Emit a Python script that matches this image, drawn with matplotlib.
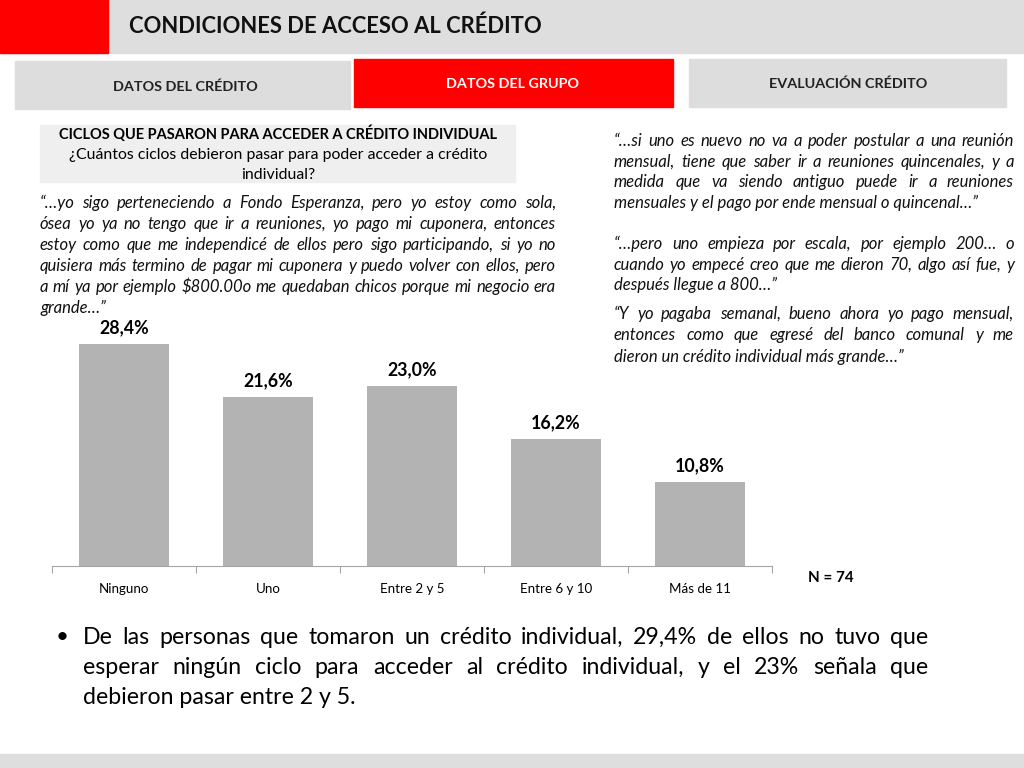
import matplotlib
matplotlib.use("Agg")
import matplotlib.pyplot as plt
from matplotlib.patches import Rectangle

plt.rcParams['font.family'] = ['Lato', 'DejaVu Sans']

# data
categories = ['Ninguno', 'Uno', 'Entre 2 y 5', 'Entre 6 y 10', 'Más de 11']
values = [28.4, 21.6, 23.0, 16.2, 10.8]
value_labels = ['28,4%', '21,6%', '23,0%', '16,2%', '10,8%']

title = 'CONDICIONES DE ACCESO AL CRÉDITO'
tabs = ['DATOS DEL CRÉDITO', 'DATOS DEL GRUPO', 'EVALUACIÓN CRÉDITO']
box_title = 'CICLOS QUE PASARON PARA ACCEDER A CRÉDITO INDIVIDUAL'
box_question = ['¿Cuántos ciclos debieron pasar para poder acceder a crédito', 'individual?']

quote_left = [
    '“…yo sigo perteneciendo a Fondo Esperanza, pero yo estoy como sola,',
    'ósea yo ya no tengo que ir a reuniones, yo pago mi cuponera, entonces',
    'estoy como que me independicé de ellos pero sigo participando, si yo no',
    'quisiera más termino de pagar mi cuponera y puedo volver con ellos, pero',
    'a mí ya por ejemplo $800.00o me quedaban chicos porque mi negocio era',
    'grande…”',
]
quote_r1 = [
    '“…si uno es nuevo no va a poder postular a una reunión',
    'mensual, tiene que saber ir a reuniones quincenales, y a',
    'medida que va siendo antiguo puede ir a reuniones',
    'mensuales y el pago por ende mensual o quincenal…”',
]
quote_r2 = [
    '“…pero uno empieza por escala, por ejemplo 200… o',
    'cuando yo empecé creo que me dieron 70, algo así fue, y',
    'después llegue a 800…”',
]
quote_r3 = [
    '“Y yo pagaba semanal, bueno ahora yo pago mensual,',
    'entonces como que egresé del banco comunal y me',
    'dieron un crédito individual más grande…”',
]
bullet = [
    'De las personas que tomaron un crédito individual, 29,4% de ellos no tuvo que',
    'esperar ningún ciclo para acceder al crédito individual,  y el 23% señala que',
    'debieron pasar entre 2 y 5.',
]

W, H = 1024, 768
fig = plt.figure(figsize=(W / 100, H / 100), dpi=100)
renderer = fig.canvas.get_renderer()


def rect(x, y, w, h, color):
    fig.patches.append(Rectangle((x / W, 1 - (y + h) / H), w / W, h / H,
                                 transform=fig.transFigure, color=color, zorder=0))


def text(x, y, s, **kw):
    return fig.text(x / W, 1 - y / H, s, **kw)


def justified(lines, x0, x1, y0, dy, **kw):
    # matplotlib has no justify, so spread the words of each line by hand
    for i, line in enumerate(lines):
        y = y0 + i * dy
        words = line.split()
        if i == len(lines) - 1:
            text(x0, y, line, va='center', ha='left', **kw)
            continue
        arts = [text(0, y, w, va='center', ha='left', **kw) for w in words]
        widths = [a.get_window_extent(renderer).width for a in arts]
        gap = (x1 - x0 - sum(widths)) / (len(words) - 1)
        x = x0
        for a, w in zip(arts, widths):
            a.set_x(x / W)
            x += w + gap


# header
rect(0, 0, W, 53, '#DEDEDE')
rect(0, 0, 108, 53, '#FF0000')
text(129, 26, title, fontsize=15.8, fontweight='bold', va='center', color='#111111')

# tabs
rect(15, 61, 335, 48, '#DDDDDD')
rect(354, 59, 319, 48, '#FF0000')
rect(689, 59, 317, 48, '#DDDDDD')
text(185, 87, tabs[0], fontsize=10.4, fontweight='bold', ha='center', va='center', color='#222222')
text(513, 84, tabs[1], fontsize=10.4, fontweight='bold', ha='center', va='center', color='white')
text(848, 84, tabs[2], fontsize=10.4, fontweight='bold', ha='center', va='center', color='#222222')

# question box
rect(40, 125, 475, 57, '#EFEFEF')
text(278, 134, box_title, fontsize=10.5, fontweight='bold', ha='center', va='center')
text(278, 155, box_question[0], fontsize=11.4, ha='center', va='center')
text(278, 175, box_question[1], fontsize=11.4, ha='center', va='center')

# quotes
qkw = dict(fontsize=12, style='italic', color='#111111')
justified(quote_left, 40, 556, 203, 21, **qkw)
justified(quote_r1, 614, 1014, 141, 20.6, **qkw)
justified(quote_r2, 614, 1014, 244, 20.6, **qkw)
justified(quote_r3, 614, 1014, 314, 21.5, **qkw)

# bar chart
ax = fig.add_axes([52 / W, 1 - 566 / H, 720 / W, 236 / H])
x = range(len(categories))
ax.bar(x, values, width=0.62, color='#B3B3B3')
for xi, v, lab in zip(x, values, value_labels):
    ax.text(xi, v + 1.0, lab, ha='center', va='bottom', fontsize=12.8, fontweight='bold')
ax.set_xlim(-0.5, len(categories) - 0.5)
ax.set_ylim(0, 30.2)
for s in ['top', 'right', 'left']:
    ax.spines[s].set_visible(False)
ax.spines['bottom'].set_color('#A6A6A6')
ax.set_yticks([])
# tick marks between the categories, labels centred under the bars
ax.set_xticks([i - 0.5 for i in range(len(categories) + 1)])
ax.set_xticklabels([])
ax.tick_params(axis='x', length=5, color='#A6A6A6', direction='out')
ax.set_xticks(list(x), minor=True)
ax.set_xticklabels(categories, minor=True, fontsize=9.6)
ax.tick_params(axis='x', which='minor', length=0, pad=12)
ax.patch.set_visible(False)

text(831, 578, 'N = 74', fontsize=11, fontweight='bold', ha='center', va='center')

# bullet
text(56, 637, '•', fontsize=16, va='center', ha='left')
justified(bullet, 83, 928, 637, 30, fontsize=16.7)

# bottom band
rect(0, 754, W, 14, '#DEDEDE')

fig.savefig('out.png', dpi=100)
